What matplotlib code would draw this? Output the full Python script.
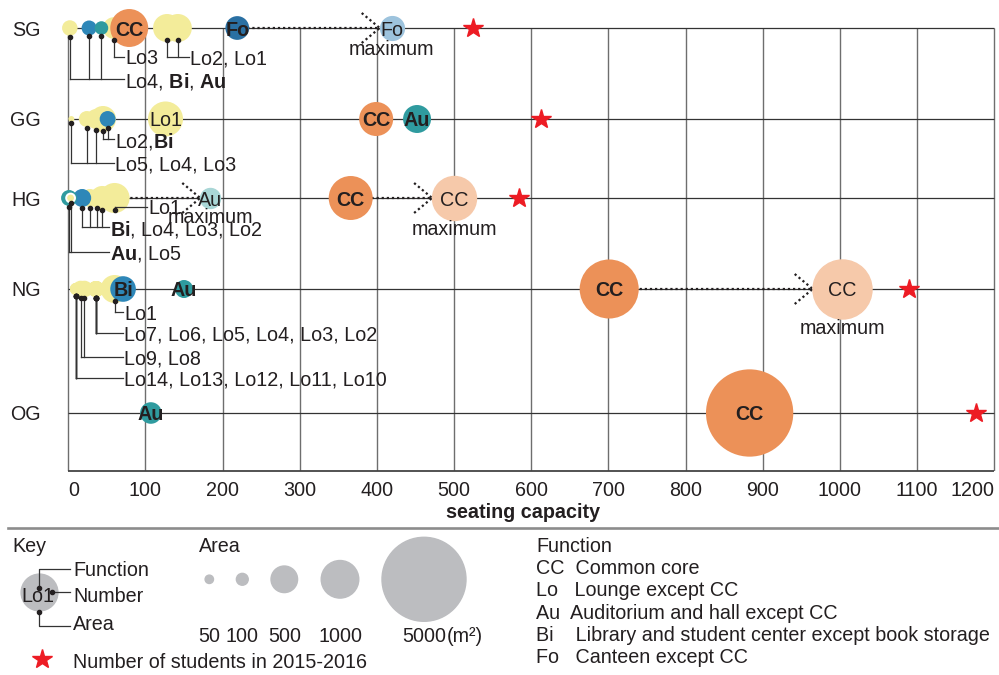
import numpy as np
import matplotlib.pyplot as plt

plt.rcParams["font.family"] = ["Liberation Sans", "DejaVu Sans"]
plt.rcParams["mathtext.fontset"] = "custom"
plt.rcParams["mathtext.rm"] = "Liberation Sans"
plt.rcParams["mathtext.bf"] = "Liberation Sans:bold"
plt.rcParams["mathtext.it"] = "Liberation Sans:italic"

# === data ===
rows = ["SG", "GG", "HG", "NG", "OG"]
students = [524, 612, 584, 1090, 1176]

sg_names = ["Lo4", "Bi", "Lo3", "Au", "CC", "Lo2", "Lo1", "Fo"]
sg_seats = [2, 27, 59, 43, 79, 128, 142, 219]
sg_area = [170, 160, 330, 130, 1020, 555, 555, 400]
sg_inside = ["CC", "Fo"]
sg_callouts = ["Lo3", "Lo2, Lo1", r"Lo4, $\mathbf{Bi}$, $\mathbf{Au}$"]
sg_members = [["Lo3"], ["Lo2", "Lo1"], ["Lo4", "Bi", "Au"]]

gg_names = ["Lo5", "Lo4", "Lo3", "Lo2", "Bi", "Lo1", "CC", "Au"]
gg_seats = [4, 24, 36, 45, 51, 126, 399, 452]
gg_area = [25, 180, 280, 480, 180, 870, 820, 555]
gg_inside = ["Lo1", "CC", "Au"]
gg_callouts = [r"Lo2,$\mathbf{Bi}$", "Lo5, Lo4, Lo3"]
gg_members = [["Lo2", "Bi"], ["Lo5", "Lo4", "Lo3"]]

hg_names = ["Lo4", "Lo3", "Lo2", "Lo1", "Bi", "Au", "Lo5", "CC"]
hg_seats = [28, 37, 44, 60, 18, 1, 3, 366]
hg_area = [230, 230, 410, 640, 230, 180, 55, 1370]
hg_inside = ["CC"]
hg_callouts = ["Lo1", r"$\mathbf{Bi}$, Lo4, Lo3, Lo2", r"$\mathbf{Au}$, Lo5"]
hg_members = [["Lo1"], ["Bi", "Lo4", "Lo3", "Lo2"], ["Au", "Lo5"]]

ng_names = ["Lo14", "Lo13", "Lo12", "Lo11", "Lo10", "Lo9", "Lo8",
            "Lo7", "Lo6", "Lo5", "Lo4", "Lo3", "Lo2", "Lo1", "Bi", "Au", "CC"]
ng_seats = [10, 10, 10, 10, 10, 16, 21, 36, 36, 36, 36, 36, 36, 60, 71, 150, 701]
ng_area = [100, 100, 100, 100, 100, 195, 195, 180, 180, 180, 180, 180, 180,
           555, 465, 230, 2470]
ng_inside = ["Bi", "Au", "CC"]
ng_callouts = ["Lo1", "Lo7, Lo6, Lo5, Lo4, Lo3, Lo2", "Lo9, Lo8",
               "Lo14, Lo13, Lo12, Lo11, Lo10"]
ng_members = [["Lo1"], ["Lo7", "Lo6", "Lo5", "Lo4", "Lo3", "Lo2"],
              ["Lo9", "Lo8"], ["Lo14", "Lo13", "Lo12", "Lo11", "Lo10"]]

og_names = ["Au", "CC"]
og_seats = [107, 883]
og_area = [330, 5400]

# maximum seating (dotted arrows)
max_rows = ["SG", "HG", "HG", "NG"]
max_names = ["Fo", "Au", "CC", "CC"]
max_from = [219, 1, 366, 701]
max_seats = [419, 184, 500, 1003]
max_area = [400, 283, 1370, 2470]

area_keys = [50, 100, 500, 1000, 5000]
func_codes = ["CC", "Lo", "Au", "Bi", "Fo"]
func_gaps = ["  ", "   ", "  ", "    ", "   "]
func_desc = ["Common core", "Lounge except CC", "Auditorium and hall except CC",
             "Library and student center except book storage", "Canteen except CC"]

# === style / layout ===
W, H, DPI = 999, 675, 100
FS = 14.2
INK = "#231f20"
COLORS = {"Lo": "#f3ec9a", "Bi": "#2e87b8", "Au": "#2f9b9f", "CC": "#ec9158", "Fo": "#2a70a3"}
MAX_COLORS = {"Fo": "#9dc3dd", "Au": "#a9d6d6", "CC": "#f6c9aa"}
KEY_GRAY = "#bcbdc0"
STAR_RED = "#ed1c24"
PX_PER_SQRT_M2 = 0.594          # bubble radius in px per sqrt(m2)

row_y = dict(zip(rows, [28, 119, 198, 289, 413]))
y_bottom = 471
x_lo, x_hi = -15, 1205
ax_left_px, ax_right_px = 56.7, 998.1

callout_pos = {
    "SG": [(29, 73.5), (29, 157.7), (51, 73.5)],
    "GG": [(20, 60.5), (44, 60.5)],
    "HG": [(9, 103.3), (29, 54), (54, 54)],
    "NG": [(23, 72.3), (44, 72.3), (68, 72.3), (89, 72.3)],
}


def bubble_s(area):
    d_pt = 2 * PX_PER_SQRT_M2 * np.sqrt(np.asarray(area, float)) * 72 / DPI
    return d_pt ** 2


def radius_px(area):
    return PX_PER_SQRT_M2 * np.sqrt(area)


fig = plt.figure(figsize=(W / DPI, H / DPI), dpi=DPI)
ax = fig.add_axes([ax_left_px / W, (H - y_bottom) / H,
                   (ax_right_px - ax_left_px) / W, y_bottom / H])
ax.set_xlim(x_lo, x_hi)
ax.set_ylim(y_bottom, 0)
for sp in ax.spines.values():
    sp.set_visible(False)
pxu = (ax_right_px - ax_left_px) / (x_hi - x_lo)   # px per seat

# grid
ticks = list(range(0, 1201, 100))
ax.vlines(ticks, row_y["SG"], y_bottom, color="#6e6e6e", lw=1.0, zorder=1)
ax.hlines(list(row_y.values()), 0, 1200, color="#333333", lw=0.9, zorder=1)
ax.hlines([y_bottom], 0, 1200, color="#444444", lw=1.3, zorder=1, clip_on=False)

ax.set_xticks(ticks)
ax.set_xticklabels([str(t) for t in ticks])
xt = ax.get_xticklabels()
xt[0].set_ha("left")
xt[-1].set_ha("right")
ax.set_yticks(list(row_y.values()))
ax.set_yticklabels(rows)
ax.tick_params(axis="x", length=0, pad=7.2, labelsize=FS, labelcolor=INK)
ax.tick_params(axis="y", length=0, pad=11.3, labelsize=FS, labelcolor=INK)
ax.set_xlabel("seating capacity", fontsize=FS, fontweight="bold", color=INK)
ax.xaxis.set_label_coords((523 - ax_left_px) / (ax_right_px - ax_left_px), -0.067)


def dot_drop(area):
    return min(1.05 * radius_px(area) + 0.5, 12)


def draw_row(row, names, seats, area, inside, texts=(), members=(), outlined=()):
    y0 = row_y[row]
    cols = [COLORS[n[:2]] for n in names]
    edges = ["white" if n in outlined else "none" for n in names]
    lws = [1.4 if n in outlined else 0 for n in names]
    ax.scatter(seats, [y0] * len(seats), s=bubble_s(area), c=cols,
               edgecolors=edges, linewidths=lws, zorder=3)
    for n in inside:
        i = names.index(n)
        ax.text(seats[i], y0 + 2, n, ha="center", va="center", fontsize=FS,
                fontweight="normal" if n.startswith("Lo") else "bold",
                color=INK, zorder=8)
    for text, group, (drop, lab_x) in zip(texts, members, callout_pos.get(row, [])):
        idx = [names.index(n) for n in group]
        xs = [seats[i] for i in idx]
        yb = y0 + drop
        for i in idx:
            yd = y0 + dot_drop(area[i])
            ax.plot([seats[i], seats[i]], [yd, yb], color="#333333", lw=0.9, zorder=6)
            ax.plot(seats[i], yd, "o", ms=3.0, color=INK, zorder=7)
        ax.plot([min(xs), lab_x - 1 / pxu], [yb, yb], color="#333333", lw=0.9, zorder=6)
        ax.text(lab_x, yb + 2, text, ha="left", va="center", fontsize=FS,
                color=INK, zorder=8)


draw_row("SG", sg_names, sg_seats, sg_area, sg_inside, sg_callouts, sg_members)
draw_row("GG", gg_names, gg_seats, gg_area, gg_inside, gg_callouts, gg_members)
draw_row("HG", hg_names, hg_seats, hg_area, hg_inside, hg_callouts, hg_members,
         outlined=("Lo5",))
draw_row("NG", ng_names, ng_seats, ng_area, ng_inside, ng_callouts, ng_members)
draw_row("OG", og_names, og_seats, og_area, og_names)

# dotted arrows to the maximum seating
dots = (0, (1, 1.3))
for row, name, x0, xm, a in zip(max_rows, max_names, max_from, max_seats, max_area):
    y0 = row_y[row]
    r = radius_px(a)
    tip = xm - r / pxu
    ax.plot([x0, tip], [y0, y0], ls=dots, lw=1.6, color=INK, zorder=2.5)
    for sgn in (-1, 1):
        ax.plot([tip - 18 / pxu, tip], [y0 + sgn * 15, y0], ls=dots, lw=1.6,
                color=INK, zorder=2.5)
    ax.scatter([xm], [y0], s=bubble_s(a), color=MAX_COLORS[name], zorder=3)
    ax.text(xm, y0 + 2, name, ha="center", va="center", fontsize=FS, color=INK, zorder=8)
    ax.text(xm, y0 + r + 9.5, "maximum", ha="center", va="center", fontsize=FS,
            color=INK, zorder=8)

ax.plot(students, [row_y[r] for r in rows], ls="none", marker="*", ms=15,
        color=STAR_RED, zorder=5, clip_on=False)

# === key / legend area ===
lg = fig.add_axes([0, 0, 1, 1])
lg.set_xlim(0, W)
lg.set_ylim(H, 0)
lg.axis("off")
lg.plot([8, W], [528, 528], color="#8c8c8c", lw=1.9)

lg.text(12, 547, "Key", fontsize=FS, color=INK, va="center")
lg.scatter([38.5], [592], s=bubble_s(960), color=KEY_GRAY)
lg.text(38, 597, "Lo1", fontsize=FS, color=INK, ha="center", va="center")
lead = dict(color="#333333", lw=0.9)
lg.plot([39, 39, 70], [588.3, 569.3, 569.3], **lead)
lg.plot([52.3, 70], [591.7, 591.7], **lead)
lg.plot([39, 39, 70], [611.7, 626, 626], **lead)
lg.plot([39, 52.3, 39], [588.3, 591.7, 611.7], ls="none", marker="o", ms=3.0, color=INK)
for label, y in zip(["Function", "Number", "Area"], [570, 597, 625]):
    lg.text(73, y, label, fontsize=FS, color=INK, va="center")
lg.plot([42], [659], ls="none", marker="*", ms=15, color=STAR_RED)
lg.text(73, 663, "Number of students in 2015-2016", fontsize=FS, color=INK, va="center")

lg.text(199, 547, "Area", fontsize=FS, color=INK, va="center")
key_x = [209.3, 242.3, 284.3, 340, 424]
lg.scatter(key_x, [579.3] * len(key_x), s=bubble_s(area_keys), color=KEY_GRAY)
for x, a in zip(key_x, area_keys):
    lg.text(x, 637, str(a), fontsize=FS, color=INK, ha="center", va="center")
lg.text(447, 637, "(m\u00b2)", fontsize=FS, color=INK, ha="left", va="center")

lg.text(536, 547, "Function", fontsize=FS, color=INK, va="center")
for i, (c, g, d) in enumerate(zip(func_codes, func_gaps, func_desc)):
    lg.text(536, 568.7 + i * 22.3, c + g + d, fontsize=FS, color=INK, va="center")

fig.savefig("out.png", dpi=DPI)
